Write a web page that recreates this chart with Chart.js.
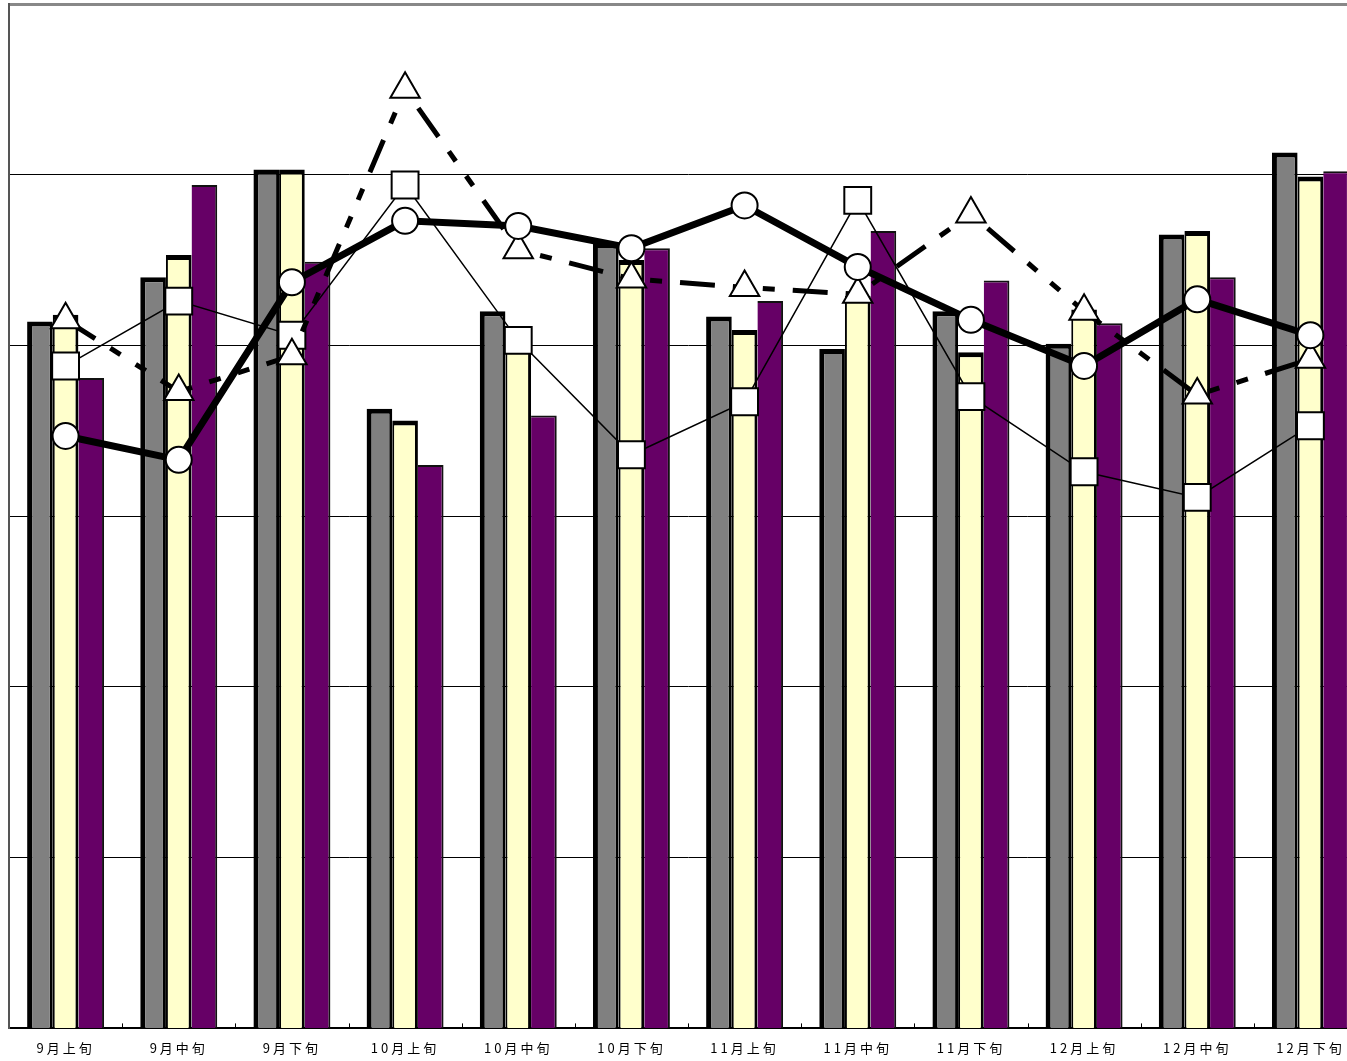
<!DOCTYPE html>
<html>
<head>
<meta charset="utf-8">
<script src="https://cdn.jsdelivr.net/npm/chart.js@4/dist/chart.umd.min.js"></script>
<style>
  html, body { margin: 0; padding: 0; background: #fff; overflow: hidden; }
  #wrap { width: 1380px; height: 1072px; }
</style>
</head>
<body>
<div id="wrap"><canvas id="myChart" width="1380" height="1072"></canvas></div>
<script>
// categories
var xValues = ["9月上旬", "9月中旬", "9月下旬", "10月上旬", "10月中旬", "10月下旬",
  "11月上旬", "11月中旬", "11月下旬", "12月上旬", "12月中旬", "12月下旬"];

// bars
var grayValues   = [41.4, 44.0, 50.3, 36.3, 42.0, 46.0, 41.7, 39.8, 42.0, 40.1, 46.5, 51.3];
var yellowValues = [41.8, 45.3, 50.3, 35.6, 40.5, 45.0, 40.9, 42.9, 39.6, 42.1, 46.7, 49.9];
var purpleValues = [38.1, 49.4, 44.9, 33.0, 35.9, 45.7, 42.6, 46.7, 43.8, 41.3, 44.0, 50.2];

// lines
var circleValues   = [34.7, 33.3, 43.7, 47.3, 47.0, 45.7, 48.2, 44.6, 41.5, 38.8, 42.7, 40.6];
var triangleValues = [41.5, 37.3, 39.4, 55.0, 45.6, 43.9, 43.4, 43.0, 47.7, 42.0, 37.1, 39.2];
var squareValues   = [38.8, 42.6, 40.6, 49.4, 40.3, 33.6, 36.7, 48.5, 37.0, 32.6, 31.1, 35.3];

// y axis (no labels shown)
var yMin = 0, yMax = 60, yStep = 10;

// small tick marks standing up on the x axis + letter spacing for labels
var axisExtras = {
  id: "axisExtras",
  beforeDraw: function(chart) {
    chart.ctx.letterSpacing = "3px";
  },
  afterDraw: function(chart) {
    var x = chart.scales.x, ctx = chart.ctx;
    var n = xValues.length, w = (x.right - x.left) / n;
    ctx.save();
    ctx.strokeStyle = "#000";
    ctx.lineWidth = 1;
    ctx.beginPath();
    for (var i = 1; i < n; i++) {
      var px = Math.round(x.left + i * w) + 0.5;
      ctx.moveTo(px, x.top);
      ctx.lineTo(px, x.top - 5);
    }
    ctx.stroke();
    ctx.restore();
  }
};

function barSet(data, color, border, bw, ord) {
  return {
    type: "bar",
    data: data,
    backgroundColor: color,
    borderColor: border,
    borderWidth: bw,
    borderSkipped: false,
    categoryPercentage: 0.68,
    barPercentage: 1.0,
    order: ord
  };
}

function lineSet(data, style, radius, width, dash, ord) {
  return {
    type: "line",
    data: data,
    borderColor: "#000",
    borderWidth: width,
    borderDash: dash,
    tension: 0,
    fill: false,
    pointStyle: style,
    pointRadius: radius,
    pointBackgroundColor: "#fff",
    pointBorderColor: "#000",
    pointBorderWidth: 2,
    order: ord
  };
}

new Chart("myChart", {
  type: "bar",
  data: {
    labels: xValues,
    datasets: [
      barSet(grayValues, "#808080", "#000", {left: 5, top: 5, right: 3, bottom: 0}, 4),
      barSet(yellowValues, "#FFFFCC", "#000", {left: 2, top: 5, right: 3, bottom: 0}, 5),
      barSet(purpleValues, "#660066", "#111", {left: 0, top: 2, right: 2, bottom: 0}, 6),
      lineSet(squareValues, "rect", 19, 1.5, [], 3),
      lineSet(triangleValues, "triangle", 17, 5, [35, 18, 12, 18, 12, 18], 2),
      lineSet(circleValues, "circle", 13, 7, [], 1)
    ]
  },
  options: {
    responsive: false,
    devicePixelRatio: 1,
    animation: false,
    layout: { autoPadding: false, padding: { left: 9, top: 4, right: 13, bottom: 4 } },
    plugins: {
      legend: { display: false },
      tooltip: { enabled: false }
    },
    scales: {
      x: {
        grid: { display: false, drawTicks: false },
        border: { display: true, color: "#000", width: 2 },
        ticks: {
          color: "#000",
          padding: 12,
          maxRotation: 0,
          autoSkip: false,
          font: { family: "'Noto Sans CJK JP', 'Noto Sans'", size: 13 }
        }
      },
      y: {
        min: yMin,
        max: yMax,
        ticks: { display: false, stepSize: yStep },
        border: { display: true, color: "#555", width: 2 },
        grid: {
          drawTicks: false,
          color: function(c) { return c.tick && c.tick.value === yMax ? "#888" : "#000"; },
          lineWidth: function(c) { return c.tick && c.tick.value === yMax ? 3 : 1; }
        }
      }
    }
  },
  plugins: [axisExtras]
});
</script>
</body>
</html>
